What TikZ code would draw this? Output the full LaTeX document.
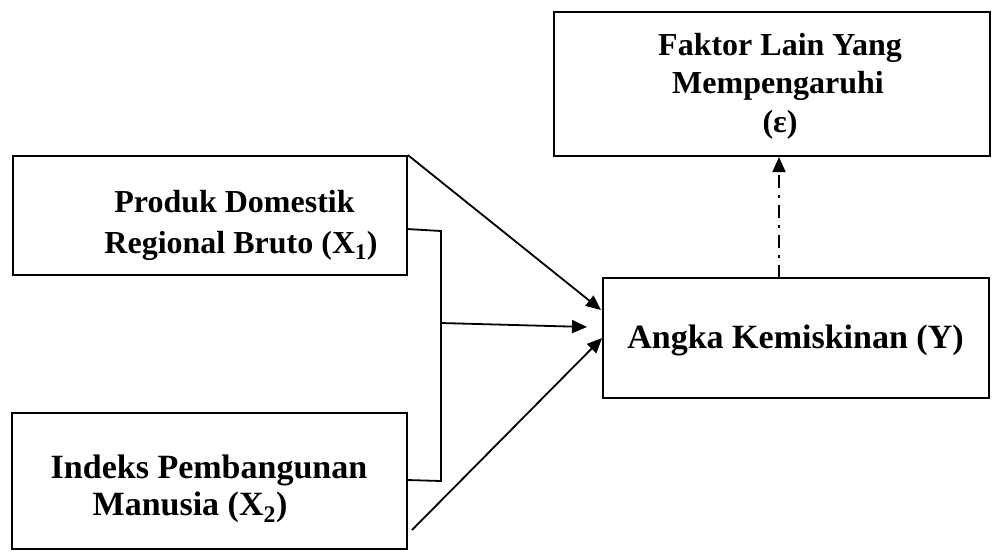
\documentclass[tikz,border=0pt]{standalone}
\usepackage{fontspec}
\setmainfont{Liberation Serif}
\usetikzlibrary{arrows.meta,calc}
\begin{document}
\begin{tikzpicture}[x=1pt,y=-1pt,
  box/.style={draw,line width=1.8pt,inner sep=0pt,rectangle},
  lbl/.style={anchor=base,inner sep=0pt,font=\bfseries\fontsize{#1}{#1}\selectfont},
  lbl/.default=30,
  link/.style={line width=1.8pt},
  conn/.style={line width=1.8pt,-{Triangle[length=15pt,width=13pt]}},
  dashdot/.style={dash pattern=on 13pt off 7pt on 3pt off 7pt}]
\useasboundingbox (0,0) rectangle (992,552);
% boxes
\node[box,minimum width=394pt,minimum height=119pt] (x1) at (210,215.5) {};
\node[box,minimum width=395pt,minimum height=136pt] (x2) at (209.5,481) {};
\node[box,minimum width=386pt,minimum height=120pt] (y) at (796,338) {};
\node[box,minimum width=436pt,minimum height=144pt] (f) at (772,84) {};
% texts
\node[lbl=32] (x1a) at (234.5,212) {Produk Domestik};
\node[lbl=32] (x1b) at (241,253) {Regional Bruto (X\textsubscript{1})};
\node[lbl=34] (x2a) at (209,478) {Indeks Pembangunan};
\node[lbl=34] (x2b) at (190,515) {Manusia (X\textsubscript{2})};
\node[lbl=34] (ya) at (795.5,348) {Angka Kemiskinan (Y)};
\node[lbl=32] (fa) at (780,55) {Faktor Lain Yang};
\node[lbl=32] (fb) at (778,93) {Mempengaruhi};
\node[lbl=32] (fc) at (780,132) {(ε)};
% connector points
\coordinate (yin1) at (601,310);
\coordinate (x2out) at (412,530);
\coordinate (b1) at (407,229);
\coordinate (b2) at (441,231);
\coordinate (b3) at (441,481);
\coordinate (b4) at (407,480);
\coordinate (bm) at (441,323);
\coordinate (be) at (587,327);
\coordinate (d1) at (779,278);
\coordinate (d2) at (779,157);
% connectors
\draw[conn] (x1.north east) -- (yin1);
\draw[conn] (x2out) -- (y.west);
\draw[link] (b1) -- (b2) -- (b3) -- (b4);
\draw[conn] (bm) -- (be);
\draw[conn,dashdot] (d1) -- (d2);
\end{tikzpicture}
\end{document}
